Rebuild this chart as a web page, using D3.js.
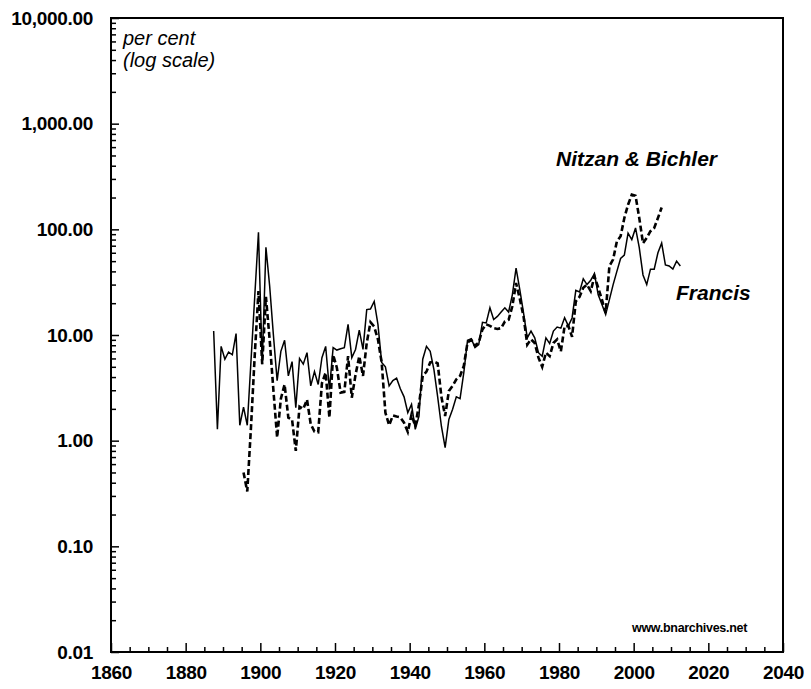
<!DOCTYPE html>
<html>
<head>
<meta charset="utf-8">
<script src="https://cdn.jsdelivr.net/npm/d3@7"></script>
<style>
  body { margin: 0; background: #fff; }
  svg { display: block; }
  text { font-family: "Liberation Sans", Arial, Helvetica, sans-serif; fill: #000; }
</style>
</head>
<body>
<svg id="chart"></svg>
<script>
// data: per cent, log scale, annual values
var francisStart = 1887;
var francisValues = [
  10.9, 1.28, 7.8, 5.9, 6.9, 6.5, 10.3, 1.4, 2.08, 1.4,
  5.7, 23, 94, 5.3, 67.6, 29, 10, 3.7, 7.0, 8.9,
  4.1, 5.6, 2.05, 6.0, 5.3, 6.8, 3.3, 4.5, 3.4, 6.1,
  7.8, 3.05, 7.6, 7.2, 7.4, 7.6, 12.6, 6.1, 7.3, 11.1,
  7.3, 17.4, 17.6, 20.8, 12.6, 5.5, 5.0, 3.3, 3.7, 3.9,
  3.1, 2.6, 1.84, 2.2, 1.28, 1.71, 5.9, 7.8, 7.0, 4.7,
  2.6, 1.37, 0.86, 1.59, 1.98, 2.6, 2.5, 4.4, 8.9, 9.2,
  7.6, 8.1, 13.2, 13, 18.1, 14.0, 15, 16.5, 18.1, 16.5,
  24, 43, 26.9, 16.2, 9.4, 10.9, 9.4, 6.8, 6.3, 9.4,
  8.3, 10.9, 11.9, 11.6, 14.6, 12.2, 14.5, 26.5, 25.5, 34,
  30, 33, 38, 24, 19.4, 15.6, 21.6, 30, 40, 53,
  57, 92, 80, 103, 67, 37, 30, 42, 42, 60,
  74, 46, 45, 42, 50, 45
];

var nbStart = 1895;
var nbValues = [
  0.50, 0.33, 1.35, 6.4, 26, 5.3, 23, 9, 3, 1.07,
  2.5, 3.4, 1.65, 1.58, 0.80, 2.1, 2.0, 2.45, 1.43, 1.22,
  1.2, 3.5, 4.4, 1.65, 6.5, 4.9, 2.85, 2.9, 6.3, 2.55,
  4.2, 6.3, 4.1, 8.4, 13.2, 12, 9.1, 5.5, 1.84, 1.40,
  1.73, 1.69, 1.66, 1.48, 1.21, 1.77, 1.37, 2.2, 4.1, 4.5,
  5.5, 5.6, 5.4, 2.6, 1.71, 2.95, 3.3, 3.8, 4.1, 5.1,
  8.5, 9.0, 7.9, 8.5, 11.3, 12.6, 12.2, 11.6, 11.4, 11.6,
  13.4, 13.9, 18.7, 31, 22, 15, 8.1, 9.1, 8.4, 6.1,
  5.0, 6.8, 6.3, 8.4, 9.1, 7.0, 12.1, 12.2, 9.6, 20.8,
  23, 28, 30, 26, 36, 28, 21.6, 16.2, 45, 52,
  77, 86, 128, 171, 213, 208, 128, 74, 83, 96,
  103, 128, 161
];

var yTicks = [0.01, 0.1, 1, 10, 100, 1000, 10000];
var xTicks = [1860, 1880, 1900, 1920, 1940, 1960, 1980, 2000, 2020, 2040];

var W = 811, H = 689;
var plotL = 111, plotR = 783, plotT = 18, plotB = 652;

var svg = d3.select("#chart").attr("width", W).attr("height", H);

var xScale = d3.scaleLinear().domain([1860, 2040]).range([plotL, plotR]);
var yScale = d3.scaleLog().domain([0.01, 10000]).range([plotB, plotT]);

// minor ticks
var yMinor = [];
yTicks.slice(0, -1).forEach(function(t) {
  for (var k = 2; k < 10; k++) yMinor.push(t * k);
});
var xMinor = d3.range(1860, 2041, 5).filter(function(d) { return d % 20 != 0; });

var fmt = d3.format(",.2f");

// y axis
svg.append("g")
  .attr("transform", "translate(" + plotL + ",0)")
  .call(d3.axisLeft(yScale).tickValues(yMinor).tickSize(-5).tickFormat(""))
  .call(function(g) { g.select(".domain").remove(); g.selectAll("line").attr("stroke-width", 1.5); });

svg.append("g")
  .attr("transform", "translate(" + plotL + ",0)")
  .call(d3.axisLeft(yScale).tickValues(yTicks).tickSize(-8).tickPadding(18).tickFormat(fmt))
  .call(function(g) {
    g.select(".domain").remove();
    g.selectAll("line").attr("stroke-width", 1.5);
    g.selectAll("text").style("font-size", "19px").style("font-weight", "bold").style("letter-spacing", "-0.3px");
  });

// x axis
svg.append("g")
  .attr("transform", "translate(0," + plotB + ")")
  .call(d3.axisBottom(xScale).tickValues(xMinor).tickSize(-5).tickFormat(""))
  .call(function(g) { g.select(".domain").remove(); g.selectAll("line").attr("stroke-width", 1.5); });

svg.append("g")
  .attr("transform", "translate(0," + plotB + ")")
  .call(d3.axisBottom(xScale).tickValues(xTicks).tickSize(-9).tickPadding(14).tickFormat(d3.format("d")))
  .call(function(g) {
    g.select(".domain").remove();
    g.selectAll("line").attr("stroke-width", 1.5);
    g.selectAll("text").style("font-size", "19px").style("font-weight", "bold").style("letter-spacing", "-0.3px");
  });

// frame
svg.append("rect")
  .attr("x", plotL).attr("y", plotT)
  .attr("width", plotR - plotL).attr("height", plotB - plotT)
  .attr("fill", "none").attr("stroke", "#000").attr("stroke-width", 2);

// lines, annual values drawn at mid-year
var line = d3.line()
  .x(function(d) { return xScale(d[0] + 0.5); })
  .y(function(d) { return yScale(d[1]); });

var nbData = nbValues.map(function(v, i) { return [nbStart + i, v]; });
var francisData = francisValues.map(function(v, i) { return [francisStart + i, v]; });

svg.append("path")
  .datum(nbData)
  .attr("d", line)
  .attr("fill", "none")
  .attr("stroke", "#000")
  .attr("stroke-width", 2.6)
  .attr("stroke-dasharray", "6,3");

svg.append("path")
  .datum(francisData)
  .attr("d", line)
  .attr("fill", "none")
  .attr("stroke", "#000")
  .attr("stroke-width", 1.5);

// labels
svg.append("text").attr("x", 123).attr("y", 45)
  .style("font-size", "20px").style("font-style", "italic").text("per cent");
svg.append("text").attr("x", 123).attr("y", 67)
  .style("font-size", "20px").style("font-style", "italic").text("(log scale)");

svg.append("text").attr("x", 556).attr("y", 166)
  .style("font-size", "21px").style("font-style", "italic").style("font-weight", "bold")
  .text("Nitzan & Bichler");

svg.append("text").attr("x", 676).attr("y", 300)
  .style("font-size", "21px").style("font-style", "italic").style("font-weight", "bold")
  .text("Francis");

svg.append("text").attr("x", 747).attr("y", 632)
  .attr("text-anchor", "end")
  .style("font-size", "12.5px").style("font-weight", "bold").style("letter-spacing", "-0.3px")
  .text("www.bnarchives.net");
</script>
</body>
</html>
